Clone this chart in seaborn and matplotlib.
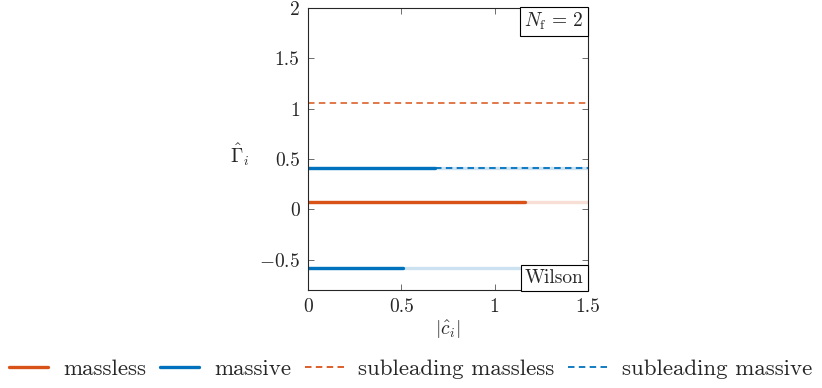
import numpy as np
import pandas as pd
import seaborn as sns
import matplotlib.pyplot as plt
from matplotlib.lines import Line2D

# %%
x_range = [0, 1.5]
massless_levels = [0.07]
massless_cuts = [1.16]
massive_levels = [0.41, -0.58]
massive_cuts = [0.68, 0.51]
sub_massless_levels = [1.06]
sub_massive_levels = [0.41]
sub_massive_starts = [0.68]
x_ticks = [0, 0.5, 1, 1.5]
y_ticks = [-0.5, 0, 0.5, 1, 1.5, 2]
legend_labels = ["massless", "massive", "subleading massless", "subleading massive"]

orange = "#D95319"
blue = "#0072BD"
dash = (0, (3.6, 2.4))

# %%
sns.set_style("ticks")
plt.rcParams["font.family"] = "serif"
plt.rcParams["font.serif"] = ["cmr10"]
plt.rcParams["mathtext.fontset"] = "cm"
plt.rcParams["axes.formatter.use_mathtext"] = True
plt.rcParams["axes.unicode_minus"] = True

fig = plt.figure(figsize=(8.22, 3.88), dpi=100)
ax = fig.add_axes([308 / 822, 1 - 290 / 388, 280 / 822, 282 / 388])


def seg(x0, x1, y, **kw):
    df = pd.DataFrame({"x": [x0, x1], "y": [y, y]})
    sns.lineplot(data=df, x="x", y="y", ax=ax, legend=False, **kw)


# light continuation (faded)
for lvl in massless_levels:
    seg(x_range[0], x_range[1], lvl, color=orange, alpha=0.18, lw=2.4)
for lvl in massive_levels:
    seg(x_range[0], x_range[1], lvl, color=blue, alpha=0.2, lw=2.4)

# solid leading parts
for lvl, cut in zip(massless_levels, massless_cuts):
    seg(x_range[0], cut, lvl, color=orange, lw=2.4)
for lvl, cut in zip(massive_levels, massive_cuts):
    seg(x_range[0], cut, lvl, color=blue, lw=2.4)

# subleading dashed
for lvl in sub_massless_levels:
    seg(x_range[0], x_range[1], lvl, color=orange, lw=1.3, linestyle=dash, alpha=0.85)
for lvl, st in zip(sub_massive_levels, sub_massive_starts):
    seg(st, x_range[1], lvl, color=blue, lw=1.3, linestyle=dash)

ax.set_xlim(0, 1.5)
ax.set_ylim(-0.8, 2)
ax.set_xticks(x_ticks)
ax.set_xticklabels(["0", "0.5", "1", "1.5"])
ax.set_yticks(y_ticks)
ax.set_yticklabels(["$-0.5$", "0", "0.5", "1", "1.5", "2"])
ax.tick_params(direction="in", top=True, right=True, labelsize=14, length=4, width=0.6, color="#555555", pad=6)
for s in ax.spines.values():
    s.set_linewidth(0.8)

ax.set_xlabel(r"$|\hat{c}_i|$", fontsize=14)
ax.xaxis.set_label_coords(0.5, -0.1)
ax.set_ylabel(r"$\hat{\Gamma}_i$", fontsize=14, rotation=0, va="center", ha="center")
ax.yaxis.set_label_coords(-0.245, 0.48)

box = dict(boxstyle="square,pad=0.22", fc="white", ec="black", lw=0.8)
ax.text(0.985, 0.99, r"$N_\mathrm{f}\,=\,2$", transform=ax.transAxes, ha="right", va="top",
        fontsize=14, bbox=box)
ax.text(0.985, 0.01, "Wilson", transform=ax.transAxes, ha="right", va="bottom",
        fontsize=14, bbox=box)

handles = [
    Line2D([], [], color=orange, lw=2.4),
    Line2D([], [], color=blue, lw=2.4),
    Line2D([], [], color=orange, lw=1.3, linestyle=dash),
    Line2D([], [], color=blue, lw=1.3, linestyle=dash),
]
fig.legend(handles, legend_labels, loc="center", bbox_to_anchor=(0.5, 1 - 369 / 388), ncol=4,
           frameon=False, fontsize=16.5, handlelength=1.7, handletextpad=0.65, columnspacing=0.6,
           borderpad=0, borderaxespad=0)

fig.savefig("out.png", dpi=100)
